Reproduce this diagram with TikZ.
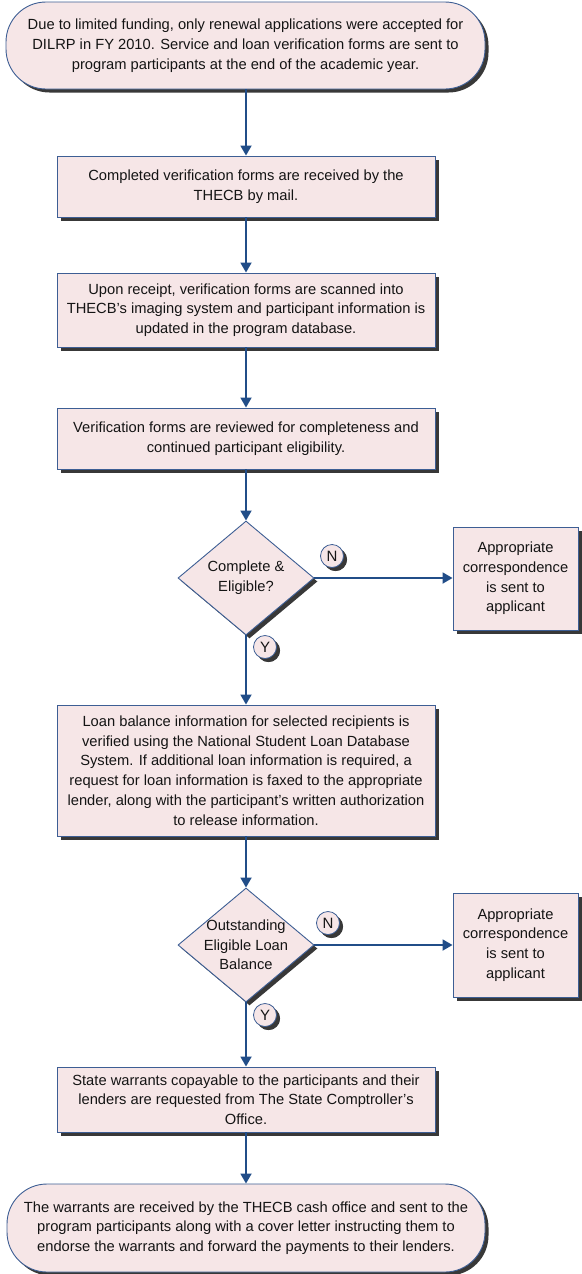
\documentclass[tikz,border=0pt]{standalone}
\usepackage{fontspec}
\setmainfont{Liberation Sans}
\usetikzlibrary{arrows.meta,shapes.geometric,shadows}
\definecolor{boxfill}{HTML}{F6E6E7}
\definecolor{boxline}{HTML}{3D5E94}
\definecolor{arrowc}{HTML}{214D88}
\definecolor{shadowc}{HTML}{383838}
\definecolor{textc}{HTML}{141414}
\tikzset{
  sh/.style={drop shadow={shadow xshift=3.5pt,shadow yshift=-3.5pt,fill=shadowc,opacity=1}},
  base/.style={draw=boxline,line width=0.9pt,fill=boxfill,text=textc,align=center,inner sep=0pt,
    font=\fontsize{14.7}{19.7}\selectfont,sh},
  terminal/.style={base,rectangle,rounded corners=40pt,minimum height=#1},
  process/.style={base,rectangle,minimum width=378pt,minimum height=#1},
  sidebox/.style={base,rectangle,minimum width=125pt,minimum height=#1},
  decision/.style={base,diamond,minimum width=136pt,minimum height=114pt},
  dtext/.style={text=textc,align=center,inner sep=0pt,font=\fontsize{14.7}{19.7}\selectfont},
  yn/.style={base,circle,minimum size=23pt,font=\fontsize{15}{16}\selectfont,line width=0.8pt,sh},
  flow/.style={draw=arrowc,line width=1.8pt,-{Triangle[length=10pt,width=11pt]}}
}
\begin{document}
\begin{tikzpicture}[x=1pt,y=-1pt]
\useasboundingbox (0,0) rectangle (581,1274);
% nodes
\node[terminal=87pt,minimum width=479pt] (t1) at (245.5,45.5) {Due to limited funding, only renewal applications were accepted for\\DILRP in FY 2010. Service and loan verification forms are sent to\\program participants at the end of the academic year.};
\node[process=61pt] (b2) at (246,186.5) {Completed verification forms are received by the\\THECB by mail.};
\node[process=74pt] (b3) at (246,310) {Upon receipt, verification forms are scanned into\\THECB’s imaging system and participant information is\\updated in the program database.};
\node[process=61pt] (b4) at (246,438.5) {Verification forms are reviewed for completeness and\\continued participant eligibility.};
\node[decision] (d1) at (246,578) {};
\node[dtext] (d1t) at (d1) {Complete \&\\Eligible?};
\node[sidebox=103pt] (r1) at (515.5,578.5) {Appropriate\\correspondence\\is sent to\\applicant};
\node[process=131pt] (b5) at (246,770.5) {Loan balance information for selected recipients is\\verified using the National Student Loan Database\\System. If additional loan information is required, a\\request for loan information is faxed to the appropriate\\lender, along with the participant’s written authorization\\to release information.};
\node[decision] (d2) at (246,945) {};
\node[dtext] (d2t) at (d2) {Outstanding\\Eligible Loan\\Balance};
\node[sidebox=104pt] (r2) at (515.5,945) {Appropriate\\correspondence\\is sent to\\applicant};
\node[process=65pt] (b6) at (246,1099.5) {State warrants copayable to the participants and their\\lenders are requested from The State Comptroller’s\\Office.};
\node[terminal=88pt,minimum width=478pt] (t2) at (246,1228) {The warrants are received by the THECB cash office and sent to the\\program participants along with a cover letter instructing them to\\endorse the warrants and forward the payments to their lenders.};
% Y/N markers
\node[yn] (n1) at (332,556) {N};
\node[yn] (y1) at (265,647) {Y};
\node[yn] (n2) at (328,923) {N};
\node[yn] (y2) at (265,1015) {Y};
% connectors
\draw[flow] (t1.south -| b2.north) -- (b2.north);
\draw[flow] (b2) -- (b3);
\draw[flow] (b3) -- (b4);
\draw[flow] (b4) -- (d1.north);
\draw[flow] (d1.east) -- (r1.west |- d1.east);
\draw[flow] (d1.south) -- (b5.north);
\draw[flow] (b5) -- (d2.north);
\draw[flow] (d2.east) -- (r2.west |- d2.east);
\draw[flow] (d2.south) -- (b6.north);
\draw[flow] (b6) -- (t2);
\end{tikzpicture}
\end{document}
